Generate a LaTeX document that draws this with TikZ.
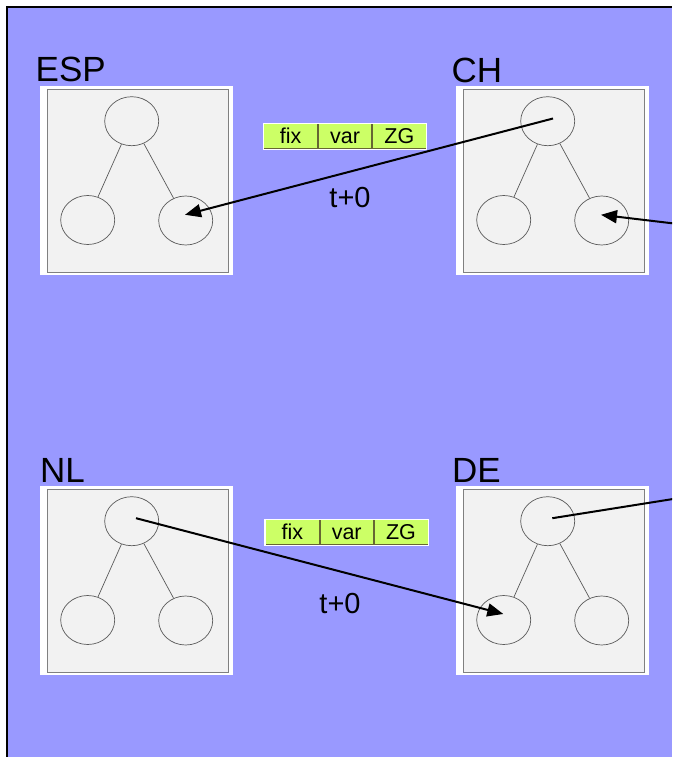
\documentclass[tikz,border=0pt]{standalone}
\usepackage{fontspec}
\setmainfont{Liberation Sans}
\usetikzlibrary{shapes.geometric,arrows.meta,calc,fit}
\definecolor{bgblue}{HTML}{9999FF}
\definecolor{boxgray}{HTML}{F2F2F2}
\definecolor{cellgreen}{HTML}{CCFF66}
\definecolor{celledge}{HTML}{666633}
\definecolor{linegray}{HTML}{5A5A5A}
\newcommand{\mycountry}[3]{%
  % #1 name, #2 x, #3 y (outer top-left)
  \node[outerbox,anchor=north west] (#1box) at (#2,#3) {};
  \node[innerbox,anchor=north west] (#1in) at ($(#2,#3)+(7,3.5)$) {};
  \node[treenode] (#1T) at ($(#2,#3)+(91.7,35.7)$) {};
  \node[treenode] (#1L) at ($(#2,#3)+(47.7,134.5)$) {};
  \node[treenode] (#1R) at ($(#2,#3)+(145.7,135)$) {};
  \draw[treeedge] (#1T) -- (#1L);
  \draw[treeedge] (#1T) -- (#1R);
}
\newcommand{\mytable}[3]{%
  % #1 name, #2 x, #3 y (top-left of outer)
  \node[tcell,minimum width=54pt,anchor=north west] (#1a) at ($(#2,#3)+(1,1)$) {fix};
  \node[tcell,minimum width=53pt,anchor=west] (#1b) at (#1a.east) {var};
  \node[tcell,minimum width=54pt,anchor=west] (#1c) at (#1b.east) {ZG};
  \node[draw=white,line width=1.2pt,inner sep=0pt,fit=(#1a)(#1c)] (#1frame) {};
}
\begin{document}
\begin{tikzpicture}[x=1pt,y=-1pt,
  outerbox/.style={rectangle,fill=white,draw=none,minimum width=193pt,minimum height=189pt,inner sep=0pt},
  innerbox/.style={rectangle,fill=boxgray,draw=gray,line width=0.9pt,minimum width=181pt,minimum height=182.5pt,inner sep=0pt},
  treenode/.style={ellipse,draw=linegray,line width=0.7pt,fill=boxgray,minimum width=54pt,minimum height=49pt,inner sep=0pt},
  treeedge/.style={draw=linegray,line width=0.7pt},
  tcell/.style={rectangle,fill=cellgreen,draw=celledge,line width=0.8pt,minimum height=25pt,inner sep=0pt,text height=17pt,text depth=3pt,font=\fontsize{21.5}{25}\selectfont},
  lbl/.style={inner sep=0pt,anchor=base west,font=\fontsize{35}{42}\selectfont},
  tlbl/.style={inner sep=0pt,font=\fontsize{29}{34}\selectfont},
  msg/.style={line width=2pt,-{Triangle[length=16pt,width=13pt]}},
  msgline/.style={line width=2pt}]
\useasboundingbox (0,0) rectangle (672,757);
\begin{scope}
\clip (0,0) rectangle (672,757);
\fill[white] (0,0) rectangle (672,757);
\fill[bgblue] (8,8) rectangle (672,757);
\draw[black,line width=2pt] (7,757) -- (7,7) -- (672,7);

\mycountry{esp}{40}{85.5}
\mycountry{ch}{456}{85.5}
\mycountry{nl}{40}{485.5}
\mycountry{de}{456}{485.5}

\node[lbl] (lesp) at (35.5,82) {ESP};
\node[lbl] (lch) at (451.5,83) {CH};
\node[lbl] (lnl) at (40,482.5) {NL};
\node[lbl] (lde) at (452,482.5) {DE};

\mytable{ta}{262.3}{122.3}
\mytable{tb}{264}{518.3}

\node[tlbl] (t1) at (350,198) {t+0};
\node[tlbl] (t2) at (340,603.5) {t+0};

\coordinate (rA) at (690,225.4);
\coordinate (rB) at (690,496.3);

\draw[msg] ($(chT.center)+(5.3,-2.7)$) -- ($(espR.center)+(-0.7,-5.7)$);
\draw[msg] (rA) -- ($(chR.center)+(-0.7,-5.7)$);
\draw[msg] ($(nlT.center)+(4.3,-3)$) -- ($(deL.center)+(-0.4,-6)$);
\draw[msgline] ($(deT.center)+(4.6,-3)$) -- (rB);
\end{scope}
\end{tikzpicture}
\end{document}
